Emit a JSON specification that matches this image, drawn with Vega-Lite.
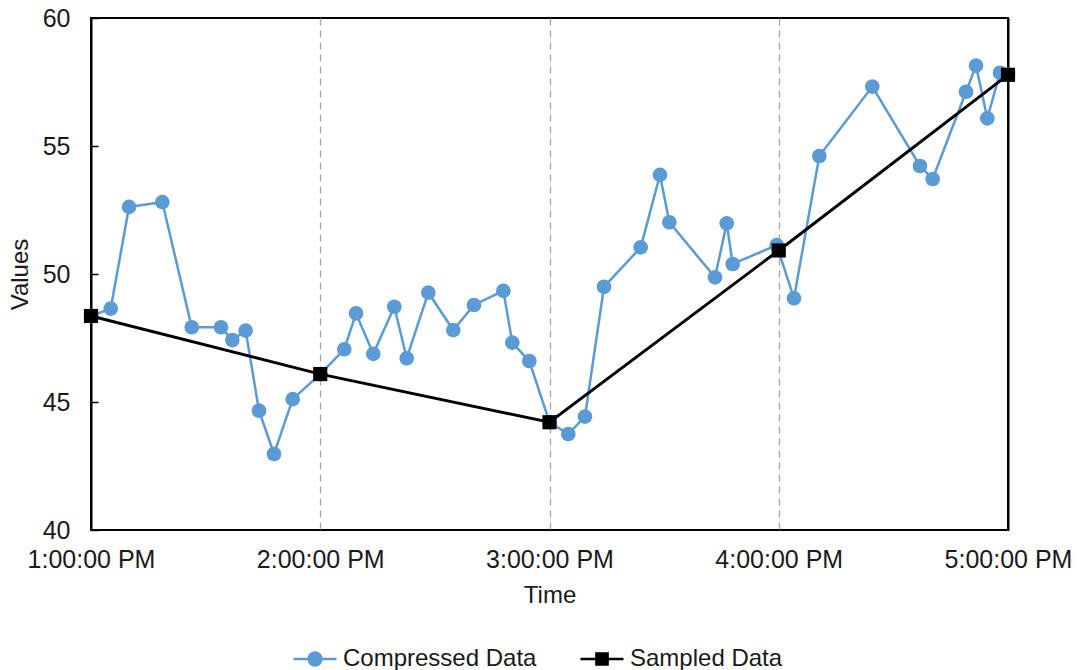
{
  "$schema": "https://vega.github.io/schema/vega-lite/v6.json",
  "autosize": "none",
  "width": 917,
  "height": 512,
  "padding": {"left": 91, "top": 18, "right": 72, "bottom": 140},
  "background": "white",
  "config": {
    "font": "Liberation Sans",
    "view": {"stroke": "#000000", "strokeWidth": 2}
  },
  "data": {
    "values": [
      {"series": "Compressed Data", "time": "2024-01-01T13:00:00", "value": 48.36},
      {"series": "Compressed Data", "time": "2024-01-01T13:05:10", "value": 48.65},
      {"series": "Compressed Data", "time": "2024-01-01T13:09:57", "value": 52.62},
      {"series": "Compressed Data", "time": "2024-01-01T13:18:40", "value": 52.81},
      {"series": "Compressed Data", "time": "2024-01-01T13:26:22", "value": 47.92},
      {"series": "Compressed Data", "time": "2024-01-01T13:34:01", "value": 47.92},
      {"series": "Compressed Data", "time": "2024-01-01T13:36:59", "value": 47.42},
      {"series": "Compressed Data", "time": "2024-01-01T13:40:29", "value": 47.79},
      {"series": "Compressed Data", "time": "2024-01-01T13:43:58", "value": 44.66},
      {"series": "Compressed Data", "time": "2024-01-01T13:47:54", "value": 42.97},
      {"series": "Compressed Data", "time": "2024-01-01T13:52:47", "value": 45.11},
      {"series": "Compressed Data", "time": "2024-01-01T14:00:00", "value": 46.09},
      {"series": "Compressed Data", "time": "2024-01-01T14:06:17", "value": 47.06},
      {"series": "Compressed Data", "time": "2024-01-01T14:09:22", "value": 48.46},
      {"series": "Compressed Data", "time": "2024-01-01T14:13:53", "value": 46.88},
      {"series": "Compressed Data", "time": "2024-01-01T14:19:23", "value": 48.72},
      {"series": "Compressed Data", "time": "2024-01-01T14:22:38", "value": 46.71},
      {"series": "Compressed Data", "time": "2024-01-01T14:28:17", "value": 49.27},
      {"series": "Compressed Data", "time": "2024-01-01T14:34:49", "value": 47.81},
      {"series": "Compressed Data", "time": "2024-01-01T14:40:14", "value": 48.79},
      {"series": "Compressed Data", "time": "2024-01-01T14:47:55", "value": 49.34},
      {"series": "Compressed Data", "time": "2024-01-01T14:50:16", "value": 47.32},
      {"series": "Compressed Data", "time": "2024-01-01T14:54:43", "value": 46.60},
      {"series": "Compressed Data", "time": "2024-01-01T15:00:00", "value": 44.21},
      {"series": "Compressed Data", "time": "2024-01-01T15:04:55", "value": 43.75},
      {"series": "Compressed Data", "time": "2024-01-01T15:09:17", "value": 44.43},
      {"series": "Compressed Data", "time": "2024-01-01T15:14:16", "value": 49.50},
      {"series": "Compressed Data", "time": "2024-01-01T15:23:52", "value": 51.04},
      {"series": "Compressed Data", "time": "2024-01-01T15:28:55", "value": 53.87},
      {"series": "Compressed Data", "time": "2024-01-01T15:31:22", "value": 52.02},
      {"series": "Compressed Data", "time": "2024-01-01T15:43:19", "value": 49.87},
      {"series": "Compressed Data", "time": "2024-01-01T15:46:23", "value": 51.98},
      {"series": "Compressed Data", "time": "2024-01-01T15:47:57", "value": 50.39},
      {"series": "Compressed Data", "time": "2024-01-01T15:59:28", "value": 51.13},
      {"series": "Compressed Data", "time": "2024-01-01T16:03:59", "value": 49.05},
      {"series": "Compressed Data", "time": "2024-01-01T16:10:37", "value": 54.61},
      {"series": "Compressed Data", "time": "2024-01-01T16:24:29", "value": 57.32},
      {"series": "Compressed Data", "time": "2024-01-01T16:36:58", "value": 54.22},
      {"series": "Compressed Data", "time": "2024-01-01T16:40:17", "value": 53.71},
      {"series": "Compressed Data", "time": "2024-01-01T16:49:01", "value": 57.12},
      {"series": "Compressed Data", "time": "2024-01-01T16:51:38", "value": 58.14},
      {"series": "Compressed Data", "time": "2024-01-01T16:54:35", "value": 56.08},
      {"series": "Compressed Data", "time": "2024-01-01T16:57:55", "value": 57.86},
      {"series": "Compressed Data", "time": "2024-01-01T17:00:00", "value": 57.79},
      {"series": "Sampled Data", "time": "2024-01-01T13:00:00", "value": 48.36},
      {"series": "Sampled Data", "time": "2024-01-01T14:00:00", "value": 46.09},
      {"series": "Sampled Data", "time": "2024-01-01T15:00:00", "value": 44.21},
      {"series": "Sampled Data", "time": "2024-01-01T16:00:00", "value": 50.92},
      {"series": "Sampled Data", "time": "2024-01-01T17:00:00", "value": 57.78}
    ]
  },
  "encoding": {
    "x": {
      "field": "time",
      "type": "temporal",
      "title": "Time",
      "scale": {
        "domain": [
          {"year": 2024, "month": 1, "date": 1, "hours": 13},
          {"year": 2024, "month": 1, "date": 1, "hours": 17}
        ]
      },
      "axis": {
        "values": [
          {"year": 2024, "month": 1, "date": 1, "hours": 13},
          {"year": 2024, "month": 1, "date": 1, "hours": 14},
          {"year": 2024, "month": 1, "date": 1, "hours": 15},
          {"year": 2024, "month": 1, "date": 1, "hours": 16},
          {"year": 2024, "month": 1, "date": 1, "hours": 17}
        ],
        "format": "%-I:%M:%S %p",
        "domain": false,
        "ticks": false,
        "grid": true,
        "gridColor": {
          "condition": {"test": "hours(datum.value) === 13 || hours(datum.value) === 17", "value": "#000000"},
          "value": "#A6A6A6"
        },
        "gridDash": {
          "condition": {"test": "hours(datum.value) === 13 || hours(datum.value) === 17", "value": []},
          "value": [7, 5]
        },
        "gridWidth": {
          "condition": {"test": "hours(datum.value) === 13 || hours(datum.value) === 17", "value": 2},
          "value": 1.3
        },
        "labelFontSize": 25,
        "labelColor": "#1a1a1a",
        "labelPadding": 17,
        "labelFlush": false,
        "labelOverlap": false,
        "titleFontSize": 24,
        "titleFontWeight": "normal",
        "titleColor": "#1a1a1a",
        "titlePadding": 11
      }
    },
    "y": {
      "field": "value",
      "type": "quantitative",
      "title": "Values",
      "scale": {"domain": [40, 60], "nice": false, "zero": false},
      "axis": {
        "values": [40, 45, 50, 55, 60],
        "domain": false,
        "grid": false,
        "ticks": true,
        "tickSize": -7,
        "tickColor": "#000000",
        "tickWidth": 1.5,
        "labelFontSize": 25,
        "labelColor": "#1a1a1a",
        "labelPadding": 28,
        "labelFlush": false,
        "titleFontSize": 24,
        "titleFontWeight": "normal",
        "titleColor": "#1a1a1a",
        "titlePadding": 10
      }
    },
    "color": {
      "field": "series",
      "type": "nominal",
      "scale": {"domain": ["Compressed Data", "Sampled Data"], "range": ["#5B9BD5", "#000000"]},
      "legend": {
        "title": null,
        "orient": "none",
        "direction": "horizontal",
        "legendX": 201,
        "legendY": 618,
        "padding": 0,
        "labelFontSize": 24,
        "labelColor": "#1a1a1a",
        "labelLimit": 0,
        "labelOffset": 5,
        "columnPadding": 38,
        "symbolSize": 1849,
        "symbolStrokeWidth": 2.5,
        "encode": {
          "symbols": {
            "update": {
              "shape": {"signal": "datum.value === 'Compressed Data' ? 'M-1,0H1M-0.3,0A0.3,0.3 0 1,1 0.3,0A0.3,0.3 0 1,1 -0.3,0Z' : 'M-1,0H1M-0.26,-0.26H0.26V0.26H-0.26Z'"},
              "fill": {"signal": "datum.value === 'Compressed Data' ? '#5B9BD5' : '#000000'"},
              "stroke": {"signal": "datum.value === 'Compressed Data' ? '#5B9BD5' : '#000000'"},
              "strokeWidth": {"value": 2.5},
              "opacity": {"value": 1},
              "fillOpacity": {"value": 1}
            }
          }
        }
      }
    }
  },
  "layer": [
    {
      "transform": [{"filter": "datum.series === 'Compressed Data'"}],
      "mark": {"type": "line", "strokeWidth": 2.5}
    },
    {
      "transform": [{"filter": "datum.series === 'Compressed Data'"}],
      "mark": {"type": "point", "shape": "circle", "filled": true, "size": 215, "opacity": 1}
    },
    {
      "transform": [{"filter": "datum.series === 'Sampled Data'"}],
      "mark": {"type": "line", "strokeWidth": 3}
    },
    {
      "transform": [{"filter": "datum.series === 'Sampled Data'"}],
      "mark": {"type": "point", "shape": "square", "filled": true, "size": 200, "opacity": 1}
    }
  ]
}
